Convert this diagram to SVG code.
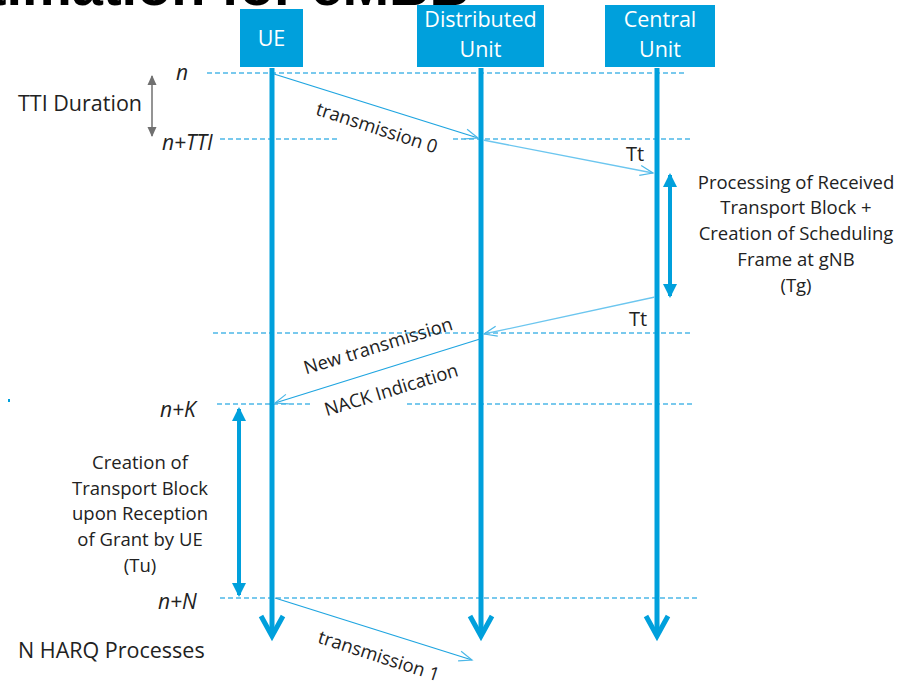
<svg xmlns="http://www.w3.org/2000/svg" width="900" height="681" viewBox="0 0 900 681">
<style>
  .t{font-family:"Open Sans","Noto Sans","Liberation Sans",sans-serif;fill:#222}
  .box{fill:#00A0DC}
  .bt{font-family:"Open Sans","Noto Sans","Liberation Sans",sans-serif;fill:#fff;font-size:21.5px;text-anchor:middle}
  .life{stroke:#00A0DC;stroke-width:5;fill:none}
  .dash{stroke:#4DB8E8;stroke-width:1.3;stroke-dasharray:5 3;fill:none}
  .msg{stroke:#1FA5E0;stroke-width:1.3;fill:none}
  .msgl{stroke:#6CC6EF;stroke-width:1.3;fill:none}
  .it{font-family:"Open Sans","Noto Sans","Liberation Sans",sans-serif;font-style:italic;fill:#222;font-size:21px}
</style>
<defs>
  <marker id="chev" markerUnits="userSpaceOnUse" markerWidth="30" markerHeight="30" refX="22" refY="12" orient="auto" viewBox="0 0 30 24">
    <path d="M2,1 L22,12 L2,23" fill="none" stroke="#00A0DC" stroke-width="5"/>
  </marker>
  <marker id="open" markerUnits="userSpaceOnUse" markerWidth="16" markerHeight="12" refX="14" refY="6" orient="auto" viewBox="0 0 16 12">
    <path d="M1,1 L14,6 L1,11" fill="none" stroke="#4DB8E8" stroke-width="1.2"/>
  </marker>
  <marker id="tri" markerUnits="userSpaceOnUse" markerWidth="16" markerHeight="16" refX="12" refY="7" orient="auto-start-reverse" viewBox="0 0 16 14">
    <path d="M0,0 L14,7 L0,14 Z" fill="#00A0DC"/>
  </marker>
  <marker id="gtri" markerUnits="userSpaceOnUse" markerWidth="12" markerHeight="10" refX="9" refY="4.5" orient="auto-start-reverse" viewBox="0 0 12 9">
    <path d="M0,0 L10,4.5 L0,9 Z" fill="#707070"/>
  </marker>
</defs>

<text x="470" y="5" text-anchor="end" font-family="Liberation Sans, sans-serif" font-weight="bold" font-size="56" fill="#000">Estimation for eMBB</text>

<g id="connectors">
  <path class="dash" d="M207,73 H687"/>
  <path class="dash" d="M220,139 H338 M453,139 H693"/>
  <path class="dash" d="M213,333 H693"/>
  <path class="dash" d="M217,404 H310 M407,404 H695"/>
  <path class="dash" d="M220,598 H700"/>
  <path class="life" d="M272,68 V636" marker-end="url(#chev)"/>
  <path class="life" d="M481,68 V636" marker-end="url(#chev)"/>
  <path class="life" d="M657,68 V636" marker-end="url(#chev)"/>
  <path class="msg" d="M274,74 L478,138" marker-end="url(#open)"/>
  <path class="msgl" d="M483,140 L653,173" marker-end="url(#open)"/>
  <path class="msgl" d="M655,297 L484,334" marker-end="url(#open)"/>
  <path class="msg" d="M480,339 L275,403" marker-end="url(#open)"/>
  <path class="msg" d="M275,598 L472,660" marker-end="url(#open)"/>
  <path d="M152,76 V136" stroke="#707070" stroke-width="1.5" marker-start="url(#gtri)" marker-end="url(#gtri)"/>
  <path d="M670,175 V296" stroke="#00A0DC" stroke-width="4" marker-start="url(#tri)" marker-end="url(#tri)"/>
  <path d="M239,409 V595" stroke="#00A0DC" stroke-width="4" marker-start="url(#tri)" marker-end="url(#tri)"/>
</g>

<g id="ue">
  <rect class="box" x="240" y="9" width="63" height="58"/>
  <text class="bt" x="271.5" y="46">UE</text>
</g>
<g id="du">
  <rect class="box" x="417" y="5" width="127" height="62"/>
  <text class="bt" x="480.5" y="27">Distributed</text>
  <text class="bt" x="480.5" y="57">Unit</text>
</g>
<g id="cu">
  <rect class="box" x="605" y="5" width="110" height="62"/>
  <text class="bt" x="660" y="27">Central</text>
  <text class="bt" x="660" y="57">Unit</text>
</g>

<g id="labels">
  <text class="t" x="18" y="111" font-size="21.5">TTI Duration</text>
  <text class="it" x="176" y="80">n</text>
  <text class="it" x="162" y="150">n+TTI</text>
  <text class="it" x="160" y="417">n+K</text>
  <text class="it" x="158" y="609">n+N</text>
  <text class="t" x="18" y="658" font-size="21.5">N HARQ Processes</text>
  <text class="t" x="626" y="161" font-size="20">Tt</text>
  <text class="t" x="629" y="326" font-size="20">Tt</text>
  <text class="t" font-size="18.5" text-anchor="middle" transform="translate(375,134) rotate(18)">transmission 0</text>
  <text class="t" font-size="18.5" text-anchor="middle" transform="translate(380,352) rotate(-17)">New transmission</text>
  <text class="t" font-size="18.5" text-anchor="middle" transform="translate(393,396) rotate(-17)">NACK Indication</text>
  <text class="t" font-size="18.5" text-anchor="middle" transform="translate(377,662) rotate(18)">transmission 1</text>
  <g class="t" font-size="18.5" text-anchor="middle">
    <text x="796" y="189">Processing of Received</text>
    <text x="796" y="214">Transport Block +</text>
    <text x="796" y="240">Creation of Scheduling</text>
    <text x="796" y="266">Frame at gNB</text>
    <text x="796" y="292">(Tg)</text>
  </g>
  <g class="t" font-size="18.5" text-anchor="middle">
    <text x="140" y="469">Creation of</text>
    <text x="140" y="495">Transport Block</text>
    <text x="140" y="520">upon Reception</text>
    <text x="140" y="546">of Grant by UE</text>
    <text x="140" y="572">(Tu)</text>
  </g>
</g>
<rect x="8" y="399" width="2" height="3" fill="#00A0DC"/>
</svg>
